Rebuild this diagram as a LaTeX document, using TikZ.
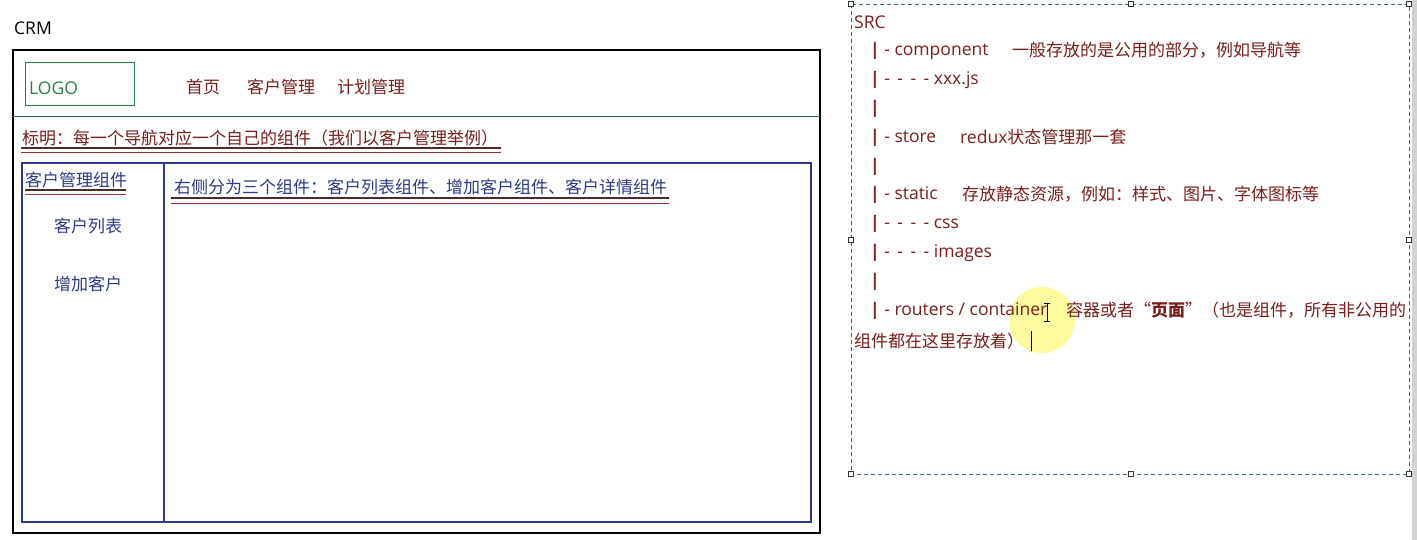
\documentclass[tikz,border=0pt]{standalone}
\usepackage{fontspec}
\newfontfamily\cjk{Noto Sans CJK SC}
\newfontfamily\lat{Open Sans}
\definecolor{dred}{HTML}{7A1E1E}
\definecolor{navy}{HTML}{2E3A88}
\definecolor{lgreen}{HTML}{2E7D4F}
\definecolor{ulred}{HTML}{9A3535}
\definecolor{uldark}{HTML}{4A2C2C}
\definecolor{selblue}{HTML}{3A6D8C}
\tikzset{
  txt/.style={inner sep=0pt, anchor=west, font=\cjk\fontsize{17}{20}\selectfont},
  ltxt/.style={inner sep=0pt, anchor=west, yshift=-1pt, font=\lat\fontsize{17.5}{20}\selectfont},
  rtxt/.style={txt, text=dred},
  rltxt/.style={ltxt, text=dred},
  navtxt/.style={inner sep=0pt, anchor=center, text=dred, font=\cjk\fontsize{17}{20}\selectfont},
  handle/.style={draw=black!80, fill=white, line width=0.6pt, minimum size=5pt, inner sep=0pt},
}
\newcommand{\vbar}{\textbf{|}}
\newcommand{\dashes}{-\,\ -\,\ -\,\ -}
\begin{document}
\begin{tikzpicture}[x=1pt,y=-1pt]
\useasboundingbox (0,0) rectangle (1417,540);
\fill[white] (0,0) rectangle (1417,540);
% scrollbar edge
\fill[gray!35] (1412,0) rectangle (1417,540);

% ---------------- left: CRM page -----------------
\node[ltxt, text=black] (crm) at (14,27) {CRM};
\draw[black, line width=1.3pt] (13,50) rectangle (820,533);
\node[draw=lgreen, line width=1pt, minimum width=109pt, minimum height=43pt, inner sep=0pt, anchor=north west] (logobox) at (25,62) {};
\node[ltxt, text=lgreen] (logo) at (29,87) {LOGO};
\node[navtxt] (home) at (203,87) {首页};
\node[navtxt] (cust) at (281,87) {客户管理};
\node[navtxt] (plan) at (371,87) {计划管理};
\draw[lgreen, line width=1pt] (13,117) -- (820,117);

\node[txt, text=dred] (note) at (22,138) {标明：每一个导航对应一个自己的组件（我们以客户管理举例）};
\draw[uldark, line width=1.2pt] (21,148) -- (501,148);
\draw[ulred, line width=0.8pt] (21,152.5) -- (501,152.5);

\draw[navy, line width=1.2pt] (22,163) rectangle (811,522);
\draw[navy, line width=1.2pt] (164,163) -- (164,522);

\node[txt, text=navy] (comp) at (25,180) {客户管理组件};
\draw[uldark, line width=1.2pt] (25,190) -- (126,190);
\draw[ulred, line width=0.8pt] (25,194) -- (126,194);
\node[txt, text=navy, anchor=center] (list) at (88,226) {客户列表};
\node[txt, text=navy, anchor=center] (add) at (88,284) {增加客户};

\node[txt, text=navy] (right) at (174,187) {右侧分为三个组件：客户列表组件、增加客户组件、客户详情组件};
\draw[uldark, line width=1.2pt] (171,198) -- (669,198);
\draw[ulred, line width=0.8pt] (171,203) -- (669,203);

% ---------------- right: SRC text box -----------------
\draw[selblue, dashed, dash pattern=on 4pt off 3pt, line width=0.8pt] (851,4) rectangle (1409,474);
\foreach \hx/\hy [count=\i] in {851/4,1131/4,1409/4,851/240,1409/240,851/474,1131/474,1409/474}
  \node[handle] (h\i) at (\hx,\hy) {};

% highlight circle
\fill[yellow!70!white, opacity=0.55] (1042,320) circle (33);

\node[rltxt] (src) at (854,21) {SRC};
\node[rltxt] (l1) at (870,50) {\vbar\ - component};
\node[rtxt] (l1c) at (1012,50) {一般存放的是公用的部分，例如导航等};
\node[rltxt] (l2) at (870,79) {\vbar\ \dashes\ xxx.js};
\node[rltxt] (l3) at (870,108) {\vbar};
\node[rltxt] (l4) at (870,137) {\vbar\ - store};
\node[rtxt] (l4c) at (960,137) {{\lat\fontsize{17.5}{20}\selectfont redux}状态管理那一套};
\node[rltxt] (l5) at (870,166) {\vbar};
\node[rltxt] (l6) at (870,194) {\vbar\ - static};
\node[rtxt] (l6c) at (962,194) {存放静态资源，例如：样式、图片、字体图标等};
\node[rltxt] (l7) at (870,223) {\vbar\ \dashes\ css};
\node[rltxt] (l8) at (870,252) {\vbar\ \dashes\ images};
\node[rltxt] (l9) at (870,281) {\vbar};
\node[rltxt] (l10) at (870,310) {\vbar\ - routers / container};
\node[rtxt] (l10c) at (1066,310) {容器或者“\textbf{页面}”（也是组件，所有非公用的};
\node[rtxt] (l11) at (854,341) {组件都在这里存放着）};

% I-beam mouse cursor and text caret
\draw[black, line width=0.8pt] (1047,303) -- (1047,321) (1044,303) -- (1050,303) (1044,321) -- (1050,321);
\draw[black, line width=1pt] (1031,331) -- (1031,351);
\end{tikzpicture}
\end{document}
